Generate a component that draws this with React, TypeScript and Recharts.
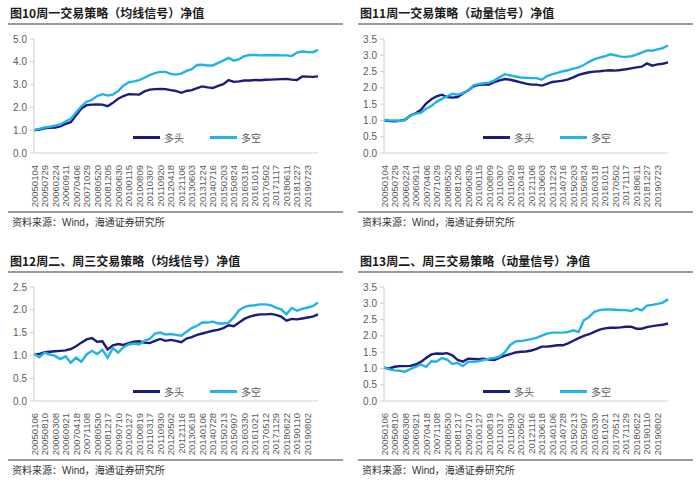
import React from 'react';
import { LineChart, Line, XAxis, YAxis, Legend } from 'recharts';

// tick labels shown on the x axis (every other data point)
const topTickLabels = [
  '20050104', '20050729', '20060224', '20060911', '20070406', '20071029', '20080520',
  '20081205', '20090630', '20100115', '20100809', '20110307', '20110920', '20120418',
  '20121106', '20130603', '20131224', '20140716', '20150203', '20150824', '20160318',
  '20161011', '20170502', '20171117', '20180611', '20181227', '20190723',
];
// unlabelled dates between the ticks (plus the tail)
const topMidDates = [
  '20050418', '20051110', '20060602', '20061221', '20070718', '20080208', '20080827',
  '20090318', '20091009', '20100430', '20101119', '20110617', '20120116', '20120727',
  '20130225', '20130911', '20140404', '20141024', '20150515', '20151208', '20160701',
  '20170120', '20170810', '20180302', '20180918', '20190415', '20191105', '20200220',
];
const bottomTickLabels = [
  '20050106', '20050810', '20060308', '20060921', '20070418', '20071108', '20080530',
  '20081217', '20090710', '20100127', '20100819', '20110317', '20110930', '20120502',
  '20121116', '20130618', '20140106', '20140728', '20150213', '20150907', '20160330',
  '20161021', '20170512', '20171129', '20180622', '20190110', '20190802',
];
const bottomMidDates = [
  '20050420', '20051122', '20060614', '20070105', '20070728', '20080219', '20080908',
  '20090330', '20091016', '20100510', '20101201', '20110624', '20120130', '20120809',
  '20130308', '20130923', '20140417', '20141106', '20150527', '20151219', '20160712',
  '20170131', '20170822', '20180313', '20180928', '20190425', '20191115', '20200228',
];

// 图10 周一交易策略（均线信号）
const fig10Long = [
  1.00, 1.03, 1.08, 1.10, 1.12, 1.17, 1.28, 1.35, 1.65, 1.95,
  2.10, 2.12, 2.13, 2.12, 2.05, 2.20, 2.38, 2.50, 2.58, 2.57,
  2.56, 2.70, 2.78, 2.80, 2.81, 2.80, 2.76, 2.72, 2.64, 2.72,
  2.76, 2.85, 2.92, 2.88, 2.85, 2.94, 3.02, 3.20, 3.12, 3.14,
  3.18, 3.18, 3.20, 3.19, 3.21, 3.22, 3.23, 3.24, 3.25, 3.22,
  3.20, 3.36, 3.35, 3.34, 3.36,
];
const fig10LongShort = [
  1.00, 1.06, 1.12, 1.15, 1.20, 1.25, 1.38, 1.50, 1.78, 2.05,
  2.25, 2.33, 2.50, 2.58, 2.52, 2.56, 2.72, 2.95, 3.10, 3.14,
  3.20, 3.30, 3.42, 3.50, 3.56, 3.56, 3.47, 3.44, 3.48, 3.60,
  3.68, 3.86, 3.87, 3.84, 3.84, 3.95, 4.05, 4.17, 4.05, 4.12,
  4.25, 4.30, 4.30, 4.28, 4.29, 4.29, 4.30, 4.28, 4.28, 4.25,
  4.40, 4.45, 4.43, 4.42, 4.52,
];

// 图11 周一交易策略（动量信号）
const fig11Long = [
  1.00, 0.98, 0.97, 0.99, 1.02, 1.15, 1.22, 1.32, 1.52, 1.65,
  1.74, 1.79, 1.72, 1.70, 1.72, 1.83, 1.92, 2.05, 2.09, 2.10,
  2.10, 2.18, 2.23, 2.27, 2.25, 2.21, 2.17, 2.13, 2.10, 2.10,
  2.07, 2.12, 2.18, 2.20, 2.22, 2.26, 2.32, 2.40, 2.44, 2.48,
  2.50, 2.51, 2.53, 2.54, 2.53, 2.55, 2.57, 2.60, 2.63, 2.65,
  2.75, 2.68, 2.72, 2.74, 2.78,
];
const fig11LongShort = [
  1.02, 1.00, 1.00, 0.99, 1.01, 1.14, 1.21, 1.23, 1.36, 1.44,
  1.57, 1.66, 1.74, 1.82, 1.79, 1.84, 1.91, 2.08, 2.12, 2.14,
  2.16, 2.23, 2.33, 2.42, 2.38, 2.35, 2.32, 2.31, 2.30, 2.30,
  2.25, 2.36, 2.42, 2.46, 2.51, 2.54, 2.59, 2.63, 2.70, 2.80,
  2.88, 2.93, 2.97, 3.03, 3.00, 2.96, 2.95, 2.97, 3.02, 3.08,
  3.15, 3.14, 3.18, 3.22, 3.30,
];

// 图12 周二、周三交易策略（均线信号）
const fig12Long = [
  1.02, 1.03, 1.07, 1.08, 1.09, 1.10, 1.11, 1.14, 1.20, 1.28,
  1.35, 1.38, 1.30, 1.31, 1.13, 1.22, 1.25, 1.23, 1.27, 1.30,
  1.31, 1.28, 1.27, 1.32, 1.36, 1.32, 1.34, 1.32, 1.29, 1.37,
  1.40, 1.45, 1.48, 1.51, 1.54, 1.56, 1.60, 1.66, 1.64, 1.72,
  1.80, 1.85, 1.88, 1.90, 1.90, 1.91, 1.89, 1.85, 1.76, 1.80,
  1.79, 1.81, 1.83, 1.85, 1.90,
];
const fig12LongShort = [
  1.04, 0.96, 1.06, 1.02, 0.99, 0.92, 0.98, 0.84, 0.95, 0.86,
  1.02, 1.10, 1.03, 1.12, 0.95, 1.16, 1.06, 1.18, 1.24, 1.26,
  1.24, 1.32, 1.36, 1.48, 1.50, 1.46, 1.47, 1.45, 1.43, 1.52,
  1.60, 1.65, 1.72, 1.72, 1.74, 1.70, 1.70, 1.72, 1.84, 1.99,
  2.06, 2.09, 2.10, 2.12, 2.12, 2.10, 2.05, 2.01, 1.90, 2.04,
  1.98, 2.02, 2.05, 2.08, 2.16,
];

// 图13 周二、周三交易策略（动量信号）
const fig13Long = [
  1.02, 1.00, 1.05, 1.07, 1.07, 1.08, 1.12, 1.20, 1.32, 1.43,
  1.46, 1.45, 1.47, 1.40, 1.26, 1.21, 1.30, 1.29, 1.28, 1.30,
  1.27, 1.26, 1.33, 1.39, 1.44, 1.49, 1.51, 1.52, 1.55, 1.60,
  1.67, 1.67, 1.69, 1.71, 1.71, 1.77, 1.85, 1.93, 2.00, 2.05,
  2.12, 2.19, 2.23, 2.25, 2.25, 2.26, 2.28, 2.28, 2.22, 2.22,
  2.27, 2.30, 2.32, 2.34, 2.38,
];
const fig13LongShort = [
  1.04, 0.97, 0.94, 0.93, 0.90, 0.98, 1.05, 1.12, 1.05, 1.22,
  1.21, 1.32, 1.27, 1.14, 1.17, 1.07, 1.20, 1.20, 1.22, 1.26,
  1.30, 1.32, 1.37, 1.50, 1.72, 1.83, 1.84, 1.87, 1.90, 1.94,
  2.01, 2.07, 2.10, 2.10, 2.10, 2.12, 2.17, 2.12, 2.48, 2.58,
  2.74, 2.79, 2.81, 2.81, 2.80, 2.79, 2.79, 2.76, 2.84, 2.78,
  2.93, 2.95, 2.98, 3.02, 3.12,
];

const ticks5 = [0, 1, 2, 3, 4, 5];
const ticks35 = [0, 0.5, 1, 1.5, 2, 2.5, 3, 3.5];
const ticks25 = [0, 0.5, 1, 1.5, 2, 2.5];

const NAVY = '#1b1c7e';
const SKY = '#1fb3e9';
const RULE = '#9a9a9a';
const AXIS = '#d0d0d0';
const LABEL = '#595959';

function interleave(ticks: string[], mids: string[]) {
  return ticks.flatMap((t, i) => [t, mids[i]]).concat(mids.slice(ticks.length));
}

function buildRows(dates: string[], long: number[], longShort: number[]) {
  return dates.map((date, i) => ({ date, long: long[i], longShort: longShort[i] }));
}

const topDates = interleave(topTickLabels, topMidDates);
const bottomDates = interleave(bottomTickLabels, bottomMidDates);

function makeDateTick(labels: string[]) {
  const shown = new Set(labels);
  return (props: any) => {
    const { x, y, payload } = props;
    if (!shown.has(payload.value)) return <g />;
    return (
      <text
        x={x}
        y={y + 4}
        transform={`rotate(-90, ${x}, ${y + 4})`}
        textAnchor="end"
        dominantBaseline="central"
        fontSize={9.5}
        fill={LABEL}
        fontFamily="'Liberation Sans', Arial, sans-serif"
      >
        {payload.value}
      </text>
    );
  };
}

const renderLegend = (props: any) => (
  <div style={{ display: 'flex', alignItems: 'center' }}>
    {(props.payload || []).map((entry: any) => (
      <div key={entry.value} style={{ display: 'flex', alignItems: 'center', marginRight: 26 }}>
        <span style={{ display: 'inline-block', width: 27, height: 3, background: entry.color }} />
        <span
          style={{
            marginLeft: 4,
            fontSize: 10,
            color: LABEL,
            fontFamily: "'Noto Sans CJK SC', sans-serif",
          }}
        >
          {entry.value}
        </span>
      </div>
    ))}
  </div>
);

interface PanelProps {
  left: number;
  top: number;
  title: string;
  dates: string[];
  tickLabels: string[];
  long: number[];
  longShort: number[];
  yMax: number;
  yTicks: number[];
  legendTop: number;
}

function Panel({ left, top, title, dates, tickLabels, long, longShort, yMax, yTicks, legendTop }: PanelProps) {
  const rows = buildRows(dates, long, longShort);
  return (
    <div style={{ position: 'absolute', left, top, width: 350, height: 240 }}>
      <div
        style={{
          position: 'absolute',
          left: 10,
          top: 4,
          fontSize: 12,
          fontWeight: 'bold',
          color: '#1a1a1a',
          fontFamily: "'Noto Sans CJK SC', sans-serif",
          whiteSpace: 'nowrap',
          lineHeight: '18px',
        }}
      >
        {title}
      </div>
      <div style={{ position: 'absolute', left: 8, top: 23, width: 335, height: 1.5, background: RULE }} />
      <div style={{ position: 'absolute', left: 0, top: 0 }}>
        <LineChart width={350} height={240} data={rows} margin={{ top: 39, right: 32, bottom: 37, left: 0 }}>
          <XAxis
            dataKey="date"
            interval={0}
            tick={makeDateTick(tickLabels)}
            tickLine={false}
            axisLine={{ stroke: AXIS }}
            height={50}
          />
          <YAxis
            type="number"
            domain={[0, yMax]}
            ticks={yTicks}
            interval={0}
            width={34}
            tickFormatter={(v: number) => v.toFixed(1)}
            tick={{ fontSize: 10, fill: LABEL, fontFamily: "'Liberation Sans', Arial, sans-serif" }}
            tickSize={4}
            tickMargin={3}
            axisLine={{ stroke: AXIS }}
            tickLine={{ stroke: AXIS }}
          />
          <Legend
            layout="horizontal"
            verticalAlign="middle"
            align="center"
            content={renderLegend}
            wrapperStyle={{ top: legendTop - 8, left: 133, width: 180, height: 16 }}
          />
          <Line
            type="linear"
            dataKey="long"
            name="多头"
            stroke={NAVY}
            strokeWidth={2.4}
            dot={false}
            isAnimationActive={false}
          />
          <Line
            type="linear"
            dataKey="longShort"
            name="多空"
            stroke={SKY}
            strokeWidth={2.4}
            dot={false}
            isAnimationActive={false}
          />
        </LineChart>
      </div>
      <div style={{ position: 'absolute', left: 8, top: 211, width: 335, height: 1.5, background: RULE }} />
      <div
        style={{
          position: 'absolute',
          left: 12,
          top: 215,
          fontSize: 10,
          color: '#333',
          fontFamily: "'Noto Sans CJK SC', sans-serif",
          whiteSpace: 'nowrap',
          lineHeight: '14px',
        }}
      >
        资料来源：<span style={{ fontFamily: "'Liberation Sans', Arial, sans-serif" }}>Wind</span>，海通证券研究所
      </div>
    </div>
  );
}

export default function App() {
  return (
    <div style={{ position: 'absolute', left: 0, top: 0, width: 700, height: 482, background: '#fff' }}>
      <Panel
        left={0}
        top={0}
        title="图10周一交易策略（均线信号）净值"
        dates={topDates}
        tickLabels={topTickLabels}
        long={fig10Long}
        longShort={fig10LongShort}
        yMax={5}
        yTicks={ticks5}
        legendTop={138}
      />
      <Panel
        left={350}
        top={0}
        title="图11周一交易策略（动量信号）净值"
        dates={topDates}
        tickLabels={topTickLabels}
        long={fig11Long}
        longShort={fig11LongShort}
        yMax={3.5}
        yTicks={ticks35}
        legendTop={138}
      />
      <Panel
        left={0}
        top={248}
        title="图12周二、周三交易策略（均线信号）净值"
        dates={bottomDates}
        tickLabels={bottomTickLabels}
        long={fig12Long}
        longShort={fig12LongShort}
        yMax={2.5}
        yTicks={ticks25}
        legendTop={144}
      />
      <Panel
        left={350}
        top={248}
        title="图13周二、周三交易策略（动量信号）净值"
        dates={bottomDates}
        tickLabels={bottomTickLabels}
        long={fig13Long}
        longShort={fig13LongShort}
        yMax={3.5}
        yTicks={ticks35}
        legendTop={144}
      />
    </div>
  );
}
